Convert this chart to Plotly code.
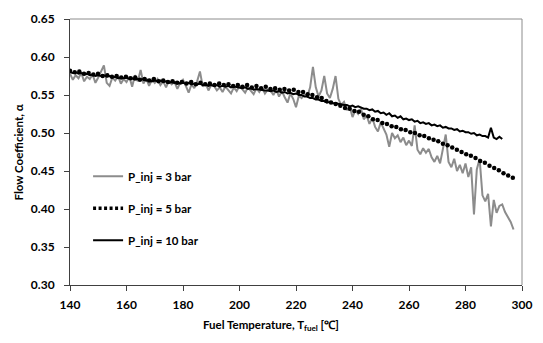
import plotly.graph_objects as go

# ---- data ----
t_3bar = list(range(140, 298))
a_3bar = [0.578, 0.570, 0.576, 0.572, 0.579, 0.568, 0.574, 0.571, 0.577, 0.566,
          0.573, 0.580, 0.589, 0.566, 0.562, 0.573, 0.569, 0.575, 0.565, 0.571,
          0.567, 0.574, 0.561, 0.576, 0.568, 0.583, 0.565, 0.572, 0.562, 0.570,
          0.566, 0.571, 0.563, 0.568, 0.560, 0.569, 0.564, 0.567, 0.558, 0.566,
          0.570, 0.562, 0.553, 0.564, 0.559, 0.568, 0.581, 0.561, 0.566, 0.556,
          0.563, 0.562, 0.556, 0.560, 0.554, 0.561, 0.557, 0.552, 0.560, 0.555,
          0.562, 0.557, 0.553, 0.560, 0.556, 0.551, 0.559, 0.554, 0.560, 0.552,
          0.557, 0.556, 0.550, 0.557, 0.548, 0.555, 0.547, 0.540, 0.552, 0.545,
          0.534, 0.549, 0.546, 0.551, 0.548, 0.560, 0.587, 0.560, 0.548, 0.556,
          0.575, 0.552, 0.546, 0.558, 0.575, 0.545, 0.537, 0.541, 0.530, 0.535,
          0.521, 0.530, 0.525, 0.532, 0.518, 0.523, 0.512, 0.520, 0.508, 0.502,
          0.514, 0.505, 0.498, 0.482, 0.500, 0.493, 0.497, 0.488, 0.494, 0.484,
          0.490, 0.483, 0.510, 0.478, 0.472, 0.480, 0.474, 0.479, 0.468, 0.462,
          0.470, 0.460, 0.478, 0.498, 0.462, 0.455, 0.466, 0.450, 0.458, 0.447,
          0.460, 0.442, 0.455, 0.393, 0.452, 0.466, 0.418, 0.410, 0.420, 0.377,
          0.412, 0.395, 0.404, 0.406, 0.396, 0.390, 0.383, 0.373]

t_5bar = [140.00, 141.65, 143.30, 144.95, 146.60, 148.25, 149.90, 151.55, 153.20, 154.85,
          156.50, 158.15, 159.80, 161.45, 163.10, 164.75, 166.40, 168.05, 169.70, 171.35,
          173.00, 174.65, 176.30, 177.95, 179.60, 181.25, 182.90, 184.55, 186.20, 187.85,
          189.50, 191.15, 192.80, 194.45, 196.10, 197.75, 199.40, 201.05, 202.70, 204.35,
          206.00, 207.65, 209.30, 210.95, 212.60, 214.25, 215.90, 217.55, 219.20, 220.85,
          222.50, 224.15, 225.80, 227.45, 229.10, 230.75, 232.40, 234.05, 235.70, 237.35,
          239.00, 240.65, 242.30, 243.95, 245.60, 247.25, 248.90, 250.55, 252.20, 253.85,
          255.50, 257.15, 258.80, 260.45, 262.10, 263.75, 265.40, 267.05, 268.70, 270.35,
          272.00, 273.65, 275.30, 276.95, 278.60, 280.25, 281.90, 283.55, 285.20, 286.85,
          288.50, 290.15, 291.80, 293.45, 295.10, 296.75]
a_5bar = [0.582, 0.580, 0.581, 0.578, 0.579, 0.577, 0.578, 0.575, 0.576, 0.574,
          0.575, 0.573, 0.574, 0.572, 0.573, 0.570, 0.571, 0.569, 0.571, 0.568,
          0.569, 0.567, 0.568, 0.566, 0.567, 0.565, 0.567, 0.564, 0.566, 0.564,
          0.565, 0.563, 0.565, 0.563, 0.564, 0.562, 0.563, 0.561, 0.563, 0.560,
          0.562, 0.559, 0.561, 0.558, 0.559, 0.557, 0.558, 0.556, 0.557, 0.554,
          0.554, 0.551, 0.550, 0.547, 0.546, 0.542, 0.540, 0.538, 0.536, 0.533,
          0.532, 0.529, 0.528, 0.524, 0.522, 0.518, 0.517, 0.513, 0.512, 0.509,
          0.508, 0.505, 0.504, 0.501, 0.500, 0.497, 0.496, 0.493, 0.491, 0.489,
          0.486, 0.484, 0.481, 0.478, 0.475, 0.472, 0.470, 0.467, 0.463, 0.461,
          0.457, 0.454, 0.451, 0.447, 0.444, 0.441]

t_10bar = list(range(140, 294))
a_10bar = [0.580, 0.579, 0.580, 0.578, 0.579, 0.577, 0.578, 0.576, 0.577, 0.575,
           0.576, 0.575, 0.576, 0.574, 0.575, 0.573, 0.574, 0.572, 0.573, 0.572,
           0.573, 0.571, 0.572, 0.570, 0.571, 0.570, 0.571, 0.569, 0.570, 0.568,
           0.569, 0.568, 0.569, 0.567, 0.568, 0.566, 0.567, 0.566, 0.567, 0.565,
           0.566, 0.565, 0.566, 0.564, 0.565, 0.564, 0.565, 0.563, 0.564, 0.562,
           0.563, 0.562, 0.563, 0.561, 0.562, 0.561, 0.562, 0.560, 0.561, 0.560,
           0.560, 0.559, 0.560, 0.558, 0.559, 0.557, 0.558, 0.557, 0.557, 0.556,
           0.556, 0.555, 0.556, 0.554, 0.555, 0.553, 0.554, 0.552, 0.553, 0.551,
           0.552, 0.550, 0.550, 0.548, 0.548, 0.546, 0.546, 0.544, 0.544, 0.542,
           0.542, 0.540, 0.541, 0.539, 0.539, 0.538, 0.538, 0.537, 0.537, 0.535,
           0.536, 0.534, 0.535, 0.533, 0.532, 0.532, 0.530, 0.531, 0.528, 0.529,
           0.526, 0.527, 0.524, 0.526, 0.522, 0.523, 0.520, 0.522, 0.518, 0.519,
           0.517, 0.518, 0.515, 0.516, 0.513, 0.514, 0.512, 0.513, 0.510, 0.511,
           0.509, 0.510, 0.507, 0.508, 0.506, 0.506, 0.504, 0.505, 0.502, 0.503,
           0.501, 0.501, 0.499, 0.500, 0.497, 0.498, 0.496, 0.496, 0.494, 0.507,
           0.494, 0.492, 0.495, 0.492]

names = ["P_inj = 3 bar", "P_inj = 5 bar", "P_inj = 10 bar"]
x_ticks = [140, 160, 180, 200, 220, 240, 260, 280, 300]
y_ticks = [0.30, 0.35, 0.40, 0.45, 0.50, 0.55, 0.60, 0.65]

FONT = "Lato"

fig = go.Figure()
fig.add_trace(go.Scatter(x=t_3bar, y=a_3bar, mode="lines", name=names[0],
                         legendgroup="a",
                         line=dict(color="#8c8c8c", width=2)))
fig.add_trace(go.Scatter(x=t_5bar, y=a_5bar, mode="markers", name=names[1],
                         legendgroup="b", showlegend=False,
                         marker=dict(color="#000000", size=4.5, symbol="circle",
                                     line=dict(width=0))))
# legend sample for the dotted series (no data of its own)
fig.add_trace(go.Scatter(x=[None], y=[None], mode="lines", name=names[1],
                         legendgroup="b",
                         line=dict(color="#000000", width=3.5, dash="3px,2.5px")))
fig.add_trace(go.Scatter(x=t_10bar, y=a_10bar, mode="lines", name=names[2],
                         legendgroup="c",
                         line=dict(color="#000000", width=2)))

axis_font = dict(family=FONT, size=12, color="#000000", weight="bold")

fig.update_layout(
    width=543, height=343,
    margin=dict(l=70, r=18, t=11, b=58),
    paper_bgcolor="white", plot_bgcolor="white",
    font=dict(family=FONT, size=12, color="#000000", weight="bold"),
    showlegend=True,
    legend=dict(x=0.04, y=0.463, xanchor="left", yanchor="top",
                bgcolor="rgba(0,0,0,0)", tracegroupgap=13,
                font=dict(family=FONT, size=11.5, color="#000000", weight="bold")),
    xaxis=dict(range=[140, 300], tickvals=x_ticks,
               ticktext=[str(v) for v in x_ticks],
               showgrid=False, zeroline=False,
               showline=True, linecolor="#404040", linewidth=1,
               ticks="outside", ticklen=5, tickcolor="#404040",
               ticklabelstandoff=4, tickfont=axis_font),
    yaxis=dict(range=[0.30, 0.65], tickvals=y_ticks,
               ticktext=["%.2f" % v for v in y_ticks],
               showgrid=False, zeroline=False,
               showline=True, linecolor="#404040", linewidth=1,
               ticks="outside", ticklen=5, tickcolor="#404040",
               ticklabelstandoff=7, tickfont=axis_font),
    shapes=[
        dict(type="line", xref="paper", yref="paper", x0=0, x1=1, y0=1, y1=1,
             line=dict(color="#8c8c8c", width=1)),
        dict(type="line", xref="paper", yref="paper", x0=1, x1=1, y0=0, y1=1,
             line=dict(color="#8c8c8c", width=1)),
    ],
    annotations=[
        dict(text="Flow Coefficient, α", xref="paper", yref="paper",
             x=-0.114, y=0.5, xanchor="center", yanchor="middle",
             textangle=-90, showarrow=False,
             font=dict(family=FONT, size=11.5, color="#000000", weight="bold")),
        dict(text="Fuel Temperature, T<sub>fuel</sub> [℃]", xref="paper", yref="paper",
             x=0.444, y=-0.153, xanchor="center", yanchor="middle",
             showarrow=False,
             font=dict(family=FONT, size=11.5, color="#000000", weight="bold")),
    ],
)

fig.write_html("out.html")
